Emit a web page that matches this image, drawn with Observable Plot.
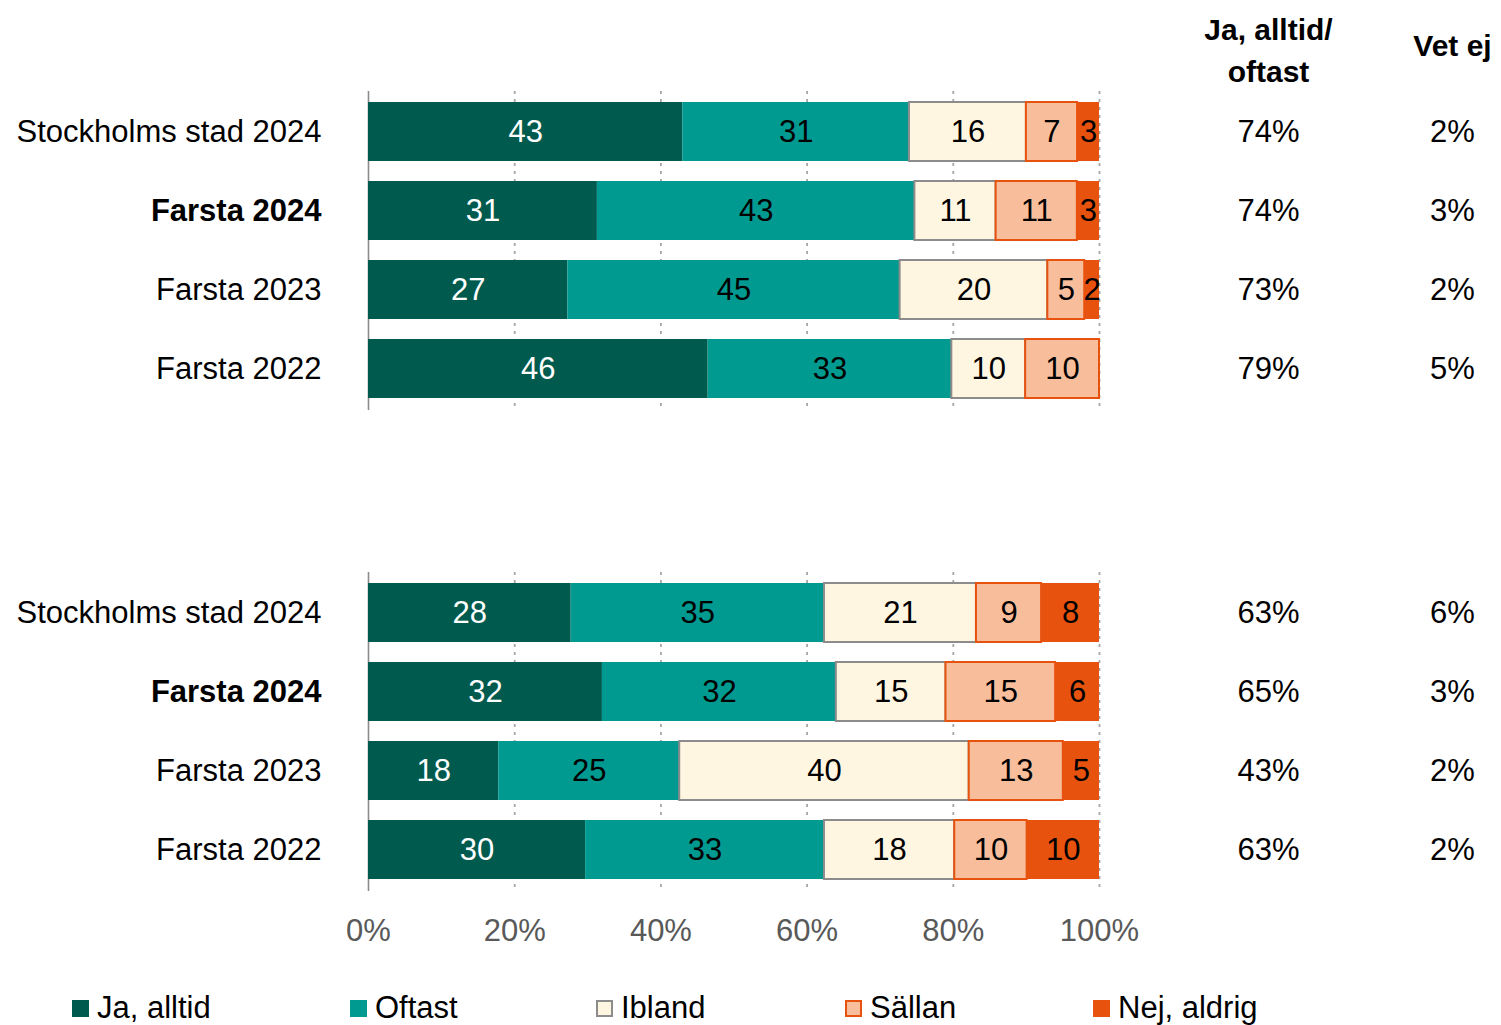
<!DOCTYPE html>
<html><head><meta charset="utf-8">
<script src="https://cdn.jsdelivr.net/npm/d3@7"></script>
<script src="https://cdn.jsdelivr.net/npm/@observablehq/plot@0.6"></script>
<style>
body{margin:0;background:#fff;overflow:hidden;font-family:"Liberation Sans",Arial,sans-serif;position:relative;width:1501px;height:1025px;}
#legend{position:absolute;top:988px;left:0;width:1501px;height:40px;}
.item{position:absolute;top:0;height:40px;display:flex;align-items:center;font-size:31px;color:#000;white-space:nowrap;}
.sw{width:17px;height:17px;margin-right:8px;box-sizing:border-box;}
</style></head><body><div id="chart"></div><div id="legend"></div>
<script>
const panels = ["Fråga 1", "Fråga 2"];
const groups = ["Stockholms stad 2024", "Farsta 2024", "Farsta 2023", "Farsta 2022"];
const boldGroup = "Farsta 2024";
const categories = ["Ja, alltid", "Oftast", "Ibland", "Sällan", "Nej, aldrig"];
const valuesPanel1 = [
  [43, 31, 16, 7, 3],
  [31, 43, 11, 11, 3],
  [27, 45, 20, 5, 2],
  [46, 33, 10, 10, 0]
];
const valuesPanel2 = [
  [28, 35, 21, 9, 8],
  [32, 32, 15, 15, 6],
  [18, 25, 40, 13, 5],
  [30, 33, 18, 10, 10]
];
const jaOftastPanel1 = ["74%", "74%", "73%", "79%"];
const vetEjPanel1 = ["2%", "3%", "2%", "5%"];
const jaOftastPanel2 = ["63%", "65%", "43%", "63%"];
const vetEjPanel2 = ["6%", "3%", "2%", "2%"];
const headerJaOftast = "Ja, alltid/\noftast";
const headerVetEj = "Vet ej";
const xTicks = [0, 0.2, 0.4, 0.6, 0.8, 1];

const fillColors = {"Ja, alltid": "#005a4e", "Oftast": "#009a91", "Ibland": "#fff6e2", "Sällan": "#f8be9c", "Nej, aldrig": "#e8520f"};
const strokeColors = {"Ja, alltid": "none", "Oftast": "none", "Ibland": "#8c8c8c", "Sällan": "#e8520f", "Nej, aldrig": "none"};
const textColors = {"Ja, alltid": "#ffffff", "Oftast": "#000000", "Ibland": "#000000", "Sällan": "#000000", "Nej, aldrig": "#000000"};

const allValues = [valuesPanel1, valuesPanel2];
const rows = [];
allValues.forEach((vals, pi) => {
  vals.forEach((r, gi) => {
    r.forEach((v, ci) => {
      if (v > 0) rows.push({panel: panels[pi], group: groups[gi], cat: categories[ci], value: v});
    });
  });
});
const side = [];
[[jaOftastPanel1, vetEjPanel1], [jaOftastPanel2, vetEjPanel2]].forEach(([ja, ve], pi) => {
  groups.forEach((g, gi) => side.push({panel: panels[pi], group: g, ja: ja[gi], vet: ve[gi]}));
});

const font = "'Liberation Sans', Arial, sans-serif";
const fs = 31;

const chart = Plot.plot({
  width: 1501,
  height: 975,
  marginLeft: 368,
  marginRight: 402,
  marginTop: 90,
  marginBottom: 83,
  style: {fontFamily: font, fontSize: fs + "px", background: "#fff", color: "#000"},
  color: {type: "identity"},
  x: {domain: [0, 1], label: null},
  y: {domain: groups, paddingInner: 0.25, paddingOuter: 0.125, axis: null},
  fy: {domain: panels, paddingInner: 0.336, paddingOuter: 0, axis: null},
  marks: [
    Plot.ruleX(xTicks.slice(1), {stroke: "#a6a6a6", strokeWidth: 1.8, strokeDasharray: "3,5"}),
    Plot.ruleX([0], {stroke: "#8c8c8c", strokeWidth: 1.6}),
    Plot.barX(rows, Plot.stackX({
      x: "value", y: "group", fy: "panel", z: "cat", offset: "normalize",
      fill: d => fillColors[d.cat], stroke: d => strokeColors[d.cat], strokeWidth: 2
    })),
    Plot.textX(rows, Plot.stackX({
      x: "value", y: "group", fy: "panel", z: "cat", offset: "normalize",
      text: "value", fill: d => textColors[d.cat], fontSize: fs
    })),
    Plot.text(groups.filter(g => g !== boldGroup), {y: d => d, frameAnchor: "left", dx: -47, textAnchor: "end", fontSize: fs, fill: "#000"}),
    Plot.text(groups.filter(g => g === boldGroup), {y: d => d, frameAnchor: "left", dx: -47, textAnchor: "end", fontSize: fs, fontWeight: "bold", fill: "#000"}),
    Plot.text(side, {fy: "panel", y: "group", x: () => 1, dx: 169, text: "ja", fontSize: fs, fill: "#000"}),
    Plot.text(side, {fy: "panel", y: "group", x: () => 1, dx: 353, text: "vet", fontSize: fs, fill: "#000"}),
    Plot.text([{panel: panels[0], t: headerJaOftast}], {fy: "panel", x: () => 1, dx: 169, frameAnchor: "top", lineAnchor: "middle", dy: -44, text: "t", fontSize: 30, fontWeight: "bold", lineHeight: 1.4, fill: "#000"}),
    Plot.text([{panel: panels[0], t: headerVetEj}], {fy: "panel", x: () => 1, dx: 353, frameAnchor: "top", lineAnchor: "middle", dy: -45, text: "t", fontSize: 30, fontWeight: "bold", fill: "#000"}),
    Plot.axisX({ticks: xTicks, tickFormat: d3.format(".0%"), tickSize: 0, tickPadding: 27, fontSize: fs, fill: "#595959", anchor: "bottom", label: null})
  ]
});
document.getElementById("chart").appendChild(chart);

const legendLeft = [72, 350, 596, 845, 1093];
const legend = document.getElementById("legend");
categories.forEach((c, i) => {
  const it = document.createElement("div");
  it.className = "item";
  it.style.left = legendLeft[i] + "px";
  const sw = document.createElement("div");
  sw.className = "sw";
  sw.style.background = fillColors[c];
  sw.style.border = "2px solid " + (strokeColors[c] === "none" ? fillColors[c] : strokeColors[c]);
  const tx = document.createElement("span");
  tx.textContent = c;
  it.appendChild(sw); it.appendChild(tx);
  legend.appendChild(it);
});
</script></body></html>
